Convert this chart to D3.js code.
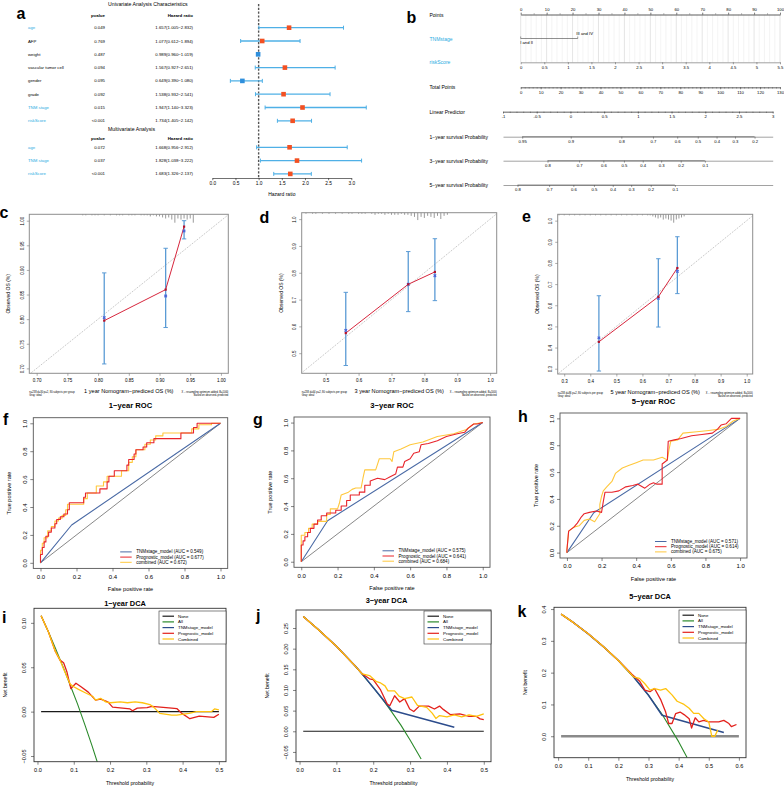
<!DOCTYPE html>
<html><head><meta charset="utf-8">
<script src="https://cdn.jsdelivr.net/npm/d3@7/dist/d3.min.js"></script>
<style>html,body{margin:0;padding:0;background:#fff}svg{display:block}</style>
</head><body>
<svg id="fig" width="784" height="790" xmlns="http://www.w3.org/2000/svg"></svg>
<script>
// ================= DATA =================
// Panel a: forest plot
const uniVars = ["age","AFP","weight","vascular tumor cell","gender","grade","TNM stage","riskScore"];
const uniP = ["0.049","0.769","0.487","0.094","0.095","0.092","0.015","<0.001"];
const uniHR = [1.657,1.077,0.989,1.567,0.649,1.538,1.947,1.734];
const uniLow = [1.005,0.612,0.960,0.927,0.390,0.932,1.140,1.405];
const uniHigh = [2.832,1.894,1.019,2.651,1.080,2.541,3.323,2.142];
const uniHighlight = [true,false,false,false,false,false,true,true];
const multiVars = ["age","TNM stage","riskScore"];
const multiP = ["0.072","0.037","<0.001"];
const multiHR = [1.668,1.828,1.683];
const multiLow = [0.956,1.038,1.326];
const multiHigh = [2.912,3.222,2.137];
const hrTicks = [0,0.5,1,1.5,2,2.5,3];

// Panel b: nomogram
const nomoRows = ["Points","TNMstage","riskScore","Total Points","Linear Predictor","1\u2212year survival Probability","3\u2212year survival Probability","5\u2212year survival Probability"];
const nomoRowHighlight = [false,true,true,false,false,false,false,false];
const pointTicks = [0,10,20,30,40,50,60,70,80,90,100];
const tnmLevels = ["I and II","III and IV"];
const tnmLevelPoints = [0,22];
const riskScoreTicks = [0,0.5,1,1.5,2,2.5,3,3.5,4,4.5,5,5.5];
const totalPointTicks = [0,10,20,30,40,50,60,70,80,90,100,110,120,130];
const lpTicks = [-1,-0.5,0,0.5,1,1.5,2,2.5,3];
const surv1Ticks = [0.95,0.9,0.8,0.7,0.6,0.5,0.4,0.3,0.2];
const surv3Ticks = [0.8,0.7,0.6,0.5,0.4,0.3,0.2,0.1];
const surv5Ticks = [0.8,0.7,0.6,0.5,0.4,0.3,0.2,0.1];
const survBaseline = [2.255,1.16,0.715];

// Panels c-e: calibration
const cal1Pred=[0.810,0.910,0.940], cal1Obs=[0.797,0.860,0.988], cal1KM=[0.803,0.847,0.979], cal1Lo=[0.709,0.783,0.963], cal1Hi=[0.894,0.944,1.000];
const cal3Pred=[0.561,0.751,0.832], cal3Obs=[0.575,0.757,0.803], cal3KM=[0.585,0.757,0.789], cal3Lo=[0.454,0.655,0.696], cal3Hi=[0.727,0.879,0.927];
const cal5Pred=[0.433,0.661,0.734], cal5Obs=[0.427,0.640,0.776], cal5KM=[0.446,0.633,0.760], cal5Lo=[0.289,0.497,0.655], cal5Hi=[0.645,0.820,0.924];
const rug1 = [[0.775,1],[0.78,1],[0.79,1],[0.795,1],[0.80,1],[0.81,1],[0.82,1],[0.83,1],[0.835,1],[0.84,1],[0.85,1],[0.855,1],[0.86,1],[0.87,1],[0.875,1],[0.88,1],[0.885,2],[0.89,1],[0.895,2],[0.90,2],[0.905,3],[0.91,4],[0.915,3],[0.92,5],[0.925,8],[0.93,4],[0.935,5],[0.94,4],[0.945,5],[0.95,4],[0.955,8]];
const rug3 = [[0.44,1],[0.46,1],[0.47,1],[0.49,1],[0.51,1],[0.53,1],[0.55,1],[0.57,1],[0.58,1],[0.60,1],[0.61,1],[0.62,1],[0.64,1],[0.65,2],[0.66,1],[0.67,1],[0.68,2],[0.69,1],[0.70,2],[0.71,2],[0.72,2],[0.73,1],[0.74,2],[0.75,2],[0.76,3],[0.77,4],[0.78,7],[0.79,4],[0.80,5],[0.81,3],[0.82,4],[0.83,5],[0.84,3],[0.85,6],[0.86,3],[0.87,2]];
const rug5 = [[0.28,1],[0.30,1],[0.32,1],[0.34,1],[0.36,1],[0.38,1],[0.40,1],[0.42,1],[0.44,1],[0.46,1],[0.48,1],[0.50,1],[0.52,1],[0.54,1],[0.56,1],[0.58,1],[0.60,1],[0.62,1],[0.63,1],[0.64,2],[0.65,3],[0.66,4],[0.67,3],[0.68,5],[0.69,4],[0.70,5],[0.71,6],[0.72,8],[0.73,5],[0.74,4],[0.75,3],[0.76,2]];

// Panels f-h: ROC
const rocDiag = [[0,0],[1,1]];
const roc1TNM = [[0,0],[0.173,0.271],[1,1]];
const roc1Prog = [[0,0],[0,0.06],[0.01,0.06],[0.01,0.11],[0.02,0.11],[0.02,0.15],[0.03,0.15],[0.03,0.19],[0.045,0.19],[0.045,0.22],[0.06,0.22],[0.06,0.25],[0.08,0.25],[0.08,0.28],[0.09,0.28],[0.09,0.31],[0.11,0.31],[0.11,0.33],[0.13,0.33],[0.13,0.35],[0.15,0.35],[0.15,0.38],[0.16,0.38],[0.16,0.43],[0.24,0.43],[0.24,0.47],[0.25,0.47],[0.25,0.50],[0.33,0.50],[0.33,0.53],[0.37,0.53],[0.37,0.58],[0.38,0.58],[0.38,0.62],[0.41,0.62],[0.41,0.66],[0.48,0.66],[0.48,0.70],[0.49,0.70],[0.49,0.74],[0.52,0.74],[0.52,0.78],[0.53,0.78],[0.53,0.81],[0.57,0.81],[0.57,0.83],[0.59,0.83],[0.59,0.86],[0.63,0.86],[0.63,0.89],[0.78,0.89],[0.78,0.93],[0.85,0.93],[0.85,0.97],[0.87,0.97],[0.87,1.0],[1,1]];
const roc1Comb = [[0,0],[0,0.09],[0.01,0.09],[0.01,0.14],[0.02,0.14],[0.02,0.18],[0.04,0.18],[0.04,0.23],[0.06,0.23],[0.06,0.26],[0.08,0.26],[0.08,0.30],[0.10,0.30],[0.10,0.32],[0.12,0.32],[0.12,0.34],[0.14,0.34],[0.14,0.38],[0.15,0.38],[0.15,0.42],[0.24,0.42],[0.24,0.46],[0.26,0.46],[0.26,0.50],[0.31,0.50],[0.31,0.55],[0.35,0.55],[0.35,0.58],[0.37,0.58],[0.37,0.62],[0.45,0.62],[0.45,0.66],[0.49,0.66],[0.49,0.72],[0.51,0.72],[0.51,0.76],[0.53,0.76],[0.53,0.81],[0.58,0.81],[0.58,0.85],[0.61,0.85],[0.61,0.88],[0.64,0.88],[0.64,0.91],[0.68,0.91],[0.68,0.93],[0.84,0.93],[0.84,0.96],[0.88,0.96],[0.88,0.99],[0.95,0.99],[0.95,1],[1,1]];
const roc3TNM = [[0,0],[0.145,0.295],[1,1]];
const roc3Prog = [[0,0],[0,0.12],[0.01,0.12],[0.01,0.15],[0.02,0.15],[0.02,0.18],[0.035,0.18],[0.035,0.21],[0.05,0.21],[0.05,0.24],[0.07,0.24],[0.07,0.27],[0.09,0.27],[0.09,0.30],[0.11,0.30],[0.11,0.33],[0.14,0.33],[0.14,0.35],[0.19,0.35],[0.19,0.37],[0.22,0.37],[0.22,0.40],[0.25,0.40],[0.25,0.44],[0.27,0.44],[0.27,0.48],[0.32,0.48],[0.32,0.50],[0.35,0.50],[0.35,0.55],[0.38,0.55],[0.38,0.58],[0.42,0.60],[0.46,0.59],[0.49,0.61],[0.52,0.63],[0.53,0.68],[0.56,0.68],[0.57,0.72],[0.60,0.74],[0.62,0.78],[0.65,0.79],[0.66,0.84],[0.70,0.85],[0.75,0.87],[0.80,0.90],[0.86,0.92],[0.90,0.93],[0.92,0.96],[0.95,0.99],[0.97,0.99],[1,1]];
const roc3Comb = [[0,0],[0,0.19],[0.02,0.19],[0.02,0.21],[0.04,0.21],[0.04,0.24],[0.06,0.24],[0.06,0.27],[0.09,0.27],[0.09,0.29],[0.14,0.29],[0.14,0.34],[0.16,0.34],[0.16,0.38],[0.20,0.38],[0.21,0.42],[0.22,0.48],[0.26,0.50],[0.28,0.52],[0.30,0.53],[0.33,0.53],[0.34,0.60],[0.35,0.66],[0.41,0.66],[0.42,0.70],[0.43,0.74],[0.49,0.74],[0.50,0.72],[0.51,0.79],[0.55,0.81],[0.60,0.84],[0.67,0.86],[0.75,0.90],[0.84,0.92],[0.91,0.95],[0.95,0.99],[1,1]];
const roc5TNM = [[0,0],[0.155,0.297],[1,1]];
const roc5Prog = [[0,0],[0,0.02],[0.01,0.16],[0.04,0.19],[0.06,0.22],[0.08,0.26],[0.10,0.29],[0.13,0.30],[0.17,0.31],[0.20,0.30],[0.21,0.38],[0.22,0.45],[0.26,0.45],[0.30,0.46],[0.34,0.49],[0.38,0.50],[0.41,0.51],[0.45,0.48],[0.48,0.51],[0.50,0.52],[0.52,0.51],[0.55,0.51],[0.55,0.66],[0.58,0.69],[0.585,0.83],[0.62,0.84],[0.66,0.85],[0.72,0.87],[0.78,0.88],[0.84,0.89],[0.87,0.92],[0.89,0.95],[0.92,0.96],[0.95,1.0],[1,1]];
const roc5Comb = [[0,0],[0,0.02],[0.01,0.16],[0.04,0.19],[0.07,0.20],[0.10,0.24],[0.13,0.25],[0.16,0.23],[0.19,0.29],[0.19,0.36],[0.20,0.42],[0.21,0.46],[0.23,0.49],[0.26,0.53],[0.28,0.59],[0.32,0.63],[0.36,0.65],[0.40,0.67],[0.44,0.69],[0.50,0.69],[0.55,0.71],[0.58,0.69],[0.59,0.77],[0.60,0.83],[0.64,0.84],[0.67,0.89],[0.75,0.90],[0.82,0.91],[0.88,0.92],[0.92,0.94],[0.96,0.98],[1,1]];
const rocAUC1 = ["0.549","0.677","0.672"], rocAUC3 = ["0.575","0.641","0.684"], rocAUC5 = ["0.571","0.614","0.675"];
const rocNames = ["TNMstage_model","Prognostic_model","combined"];

// Panels i-k: DCA
const dcaNames = ["None","All","TNMstage_model","Prognostic_model","Combined"];
const dcaNone1 = [[0.01,0],[0.5,0]];
const dcaAll1 = [[0.01,0.108],[0.03,0.090],[0.05,0.071],[0.07,0.051],[0.09,0.030],[0.11,0.009],[0.13,-0.014],[0.15,-0.038],[0.165,-0.057]];
const dcaProg1 = [[0.01,0.108],[0.03,0.090],[0.049,0.068],[0.062,0.058],[0.072,0.055],[0.081,0.045],[0.092,0.026],[0.106,0.032],[0.12,0.028],[0.14,0.022],[0.16,0.013],[0.174,0.014],[0.194,0.011],[0.207,0.005],[0.255,0.003],[0.262,0.001],[0.275,0.004],[0.302,0.0045],[0.315,0.006],[0.37,0.004],[0.384,0.0035],[0.398,-0.002],[0.42,-0.008],[0.446,-0.005],[0.486,-0.0065],[0.5,-0.003]];
const dcaComb1 = [[0.01,0.108],[0.03,0.090],[0.049,0.068],[0.06,0.060],[0.072,0.048],[0.09,0.031],[0.1,0.028],[0.113,0.025],[0.133,0.021],[0.153,0.017],[0.16,0.013],[0.174,0.015],[0.188,0.011],[0.201,0.010],[0.228,0.011],[0.248,0.010],[0.269,0.011],[0.289,0.010],[0.31,0.008],[0.323,0.004],[0.337,-0.002],[0.37,-0.004],[0.384,-0.004],[0.398,-0.003],[0.418,-0.002],[0.438,0.0],[0.459,0.0],[0.479,0.0],[0.488,0.003],[0.5,0.002]];
const dcaNone3 = [[0.01,0],[0.5,0]];
const dcaAll3 = [[0.01,0.278],[0.05,0.247],[0.1,0.206],[0.15,0.159],[0.2,0.106],[0.225,0.078],[0.25,0.047],[0.275,0.015],[0.3,-0.021],[0.33,-0.067]];
const dcaTNM3 = [[0.01,0.278],[0.05,0.247],[0.1,0.206],[0.15,0.159],[0.17,0.139],[0.2,0.106],[0.25,0.051],[0.42,0.010]];
const dcaProg3 = [[0.01,0.278],[0.05,0.247],[0.1,0.206],[0.15,0.159],[0.17,0.139],[0.19,0.127],[0.2,0.125],[0.22,0.10],[0.238,0.066],[0.245,0.062],[0.258,0.086],[0.272,0.071],[0.285,0.079],[0.299,0.054],[0.31,0.048],[0.325,0.061],[0.35,0.061],[0.366,0.054],[0.38,0.061],[0.39,0.053],[0.41,0.040],[0.435,0.042],[0.46,0.036],[0.48,0.036],[0.49,0.030],[0.5,0.028]];
const dcaComb3 = [[0.01,0.278],[0.05,0.247],[0.1,0.206],[0.15,0.159],[0.17,0.139],[0.19,0.135],[0.209,0.12],[0.22,0.117],[0.232,0.11],[0.24,0.098],[0.258,0.098],[0.27,0.085],[0.285,0.079],[0.305,0.083],[0.32,0.063],[0.345,0.058],[0.36,0.044],[0.37,0.031],[0.38,0.038],[0.4,0.035],[0.42,0.04],[0.44,0.035],[0.46,0.04],[0.48,0.036],[0.5,0.042]];
const dcaNone5 = [[0.01,0],[0.6,0]];
const dcaAll5 = [[0.01,0.384],[0.05,0.358],[0.1,0.322],[0.15,0.282],[0.2,0.238],[0.25,0.187],[0.3,0.129],[0.345,0.069],[0.4,-0.017],[0.428,-0.067]];
const dcaTNM5 = [[0.01,0.384],[0.05,0.358],[0.1,0.322],[0.15,0.282],[0.2,0.238],[0.25,0.187],[0.3,0.129],[0.345,0.066],[0.55,0.012]];
const dcaProg5 = [[0.01,0.384],[0.05,0.358],[0.1,0.322],[0.15,0.282],[0.2,0.238],[0.245,0.195],[0.27,0.174],[0.288,0.145],[0.305,0.14],[0.32,0.15],[0.34,0.116],[0.357,0.076],[0.367,0.04],[0.378,0.04],[0.39,0.071],[0.405,0.076],[0.418,0.068],[0.435,0.055],[0.443,0.026],[0.455,0.058],[0.467,0.045],[0.483,0.05],[0.5,0.045],[0.533,0.045],[0.55,0.05],[0.567,0.04],[0.575,0.03],[0.592,0.037]];
const dcaComb5 = [[0.01,0.384],[0.05,0.358],[0.1,0.322],[0.15,0.282],[0.2,0.238],[0.25,0.187],[0.27,0.182],[0.288,0.165],[0.305,0.145],[0.32,0.15],[0.34,0.145],[0.357,0.15],[0.378,0.13],[0.395,0.11],[0.418,0.1],[0.435,0.088],[0.45,0.072],[0.467,0.072],[0.483,0.056],[0.5,0.045],[0.51,0.0],[0.52,0.0],[0.53,0.02]];

// ================= DRAWING =================
const FONT = "'Liberation Sans', Arial, Helvetica, sans-serif";
const svg = d3.select("#fig").attr("font-family", FONT);
svg.append("rect").attr("width",784).attr("height",790).attr("fill","#fff");
const defs = svg.append("defs");
let clipN = 0;
function clip(b){ const id="clp"+(clipN++); defs.append("clipPath").attr("id",id).append("rect").attr("x",b.x0).attr("y",b.y0).attr("width",b.x1-b.x0).attr("height",b.y1-b.y0); return `url(#${id})`; }
function T(g,x,y,s,o={}){
  const t = g.append("text").attr("x",x).attr("y",y).text(s)
    .attr("font-size",o.size||5).attr("fill",o.fill||"#000")
    .attr("text-anchor",o.anchor||"start").attr("font-weight",o.weight||"normal");
  if(o.baseline) t.attr("dominant-baseline",o.baseline);
  if(o.rotate) t.attr("transform",`rotate(-90,${x},${y})`);
  return t;
}
function rAxis(g, scale, orient, ticks, o){
  let ax = orient==="bottom"?d3.axisBottom(scale):orient==="top"?d3.axisTop(scale):d3.axisLeft(scale);
  ax = ax.tickValues(ticks).tickSize(o.tl).tickSizeOuter(0).tickPadding(o.pad).tickFormat(o.fmt);
  const gg = g.append("g").attr("transform", orient==="left"?`translate(${o.pos},0)`:`translate(0,${o.pos})`).call(ax);
  gg.attr("font-family",FONT);
  if(!o.keepDomain) gg.select(".domain").remove();
  else gg.select(".domain").attr("stroke",o.color||"#000").attr("stroke-width",o.sw||0.6);
  gg.selectAll(".tick line").attr("stroke",o.color||"#000").attr("stroke-width",o.sw||0.6);
  gg.selectAll("text").attr("font-size",o.fs).attr("fill","#000");
  if(orient==="left") gg.selectAll("text").attr("transform","rotate(-90)").attr("x",0).attr("y",-(o.tl+o.pad)).attr("dy","0").attr("text-anchor","middle");
  return gg;
}
const cyan = "#29abe2";

// ---------- Panel a ----------
(function(){
  const g = svg.append("g");
  T(g,16.5,18.5,"a",{size:16,weight:"bold"});
  T(g,108,6,"Univariate Analysis Characteristics",{size:5.2});
  T(g,108,131,"Multivariate Analysis",{size:5.2});
  const hx = d3.scaleLinear().domain([0,3]).range([212.3,351.3]);
  const rowsU = uniVars.map((v,i)=>({v,p:uniP[i],hr:uniHR[i],lo:uniLow[i],hi:uniHigh[i],hl:uniHighlight[i],y:27.7+i*13.3}));
  const rowsM = multiVars.map((v,i)=>({v,p:multiP[i],hr:multiHR[i],lo:multiLow[i],hi:multiHigh[i],hl:true,y:147.3+i*13.3}));
  [15,138.5].forEach(y=>{
    T(g,105,y,"pvalue",{size:4.4,anchor:"end",baseline:"central",weight:"bold"});
    T(g,193,y,"Hazard ratio",{size:4.4,anchor:"end",baseline:"central",weight:"bold"});
  });
  const f3 = d3.format(".3f");
  g.append("line").attr("x1",hx(1)).attr("x2",hx(1)).attr("y1",4).attr("y2",178).attr("stroke","#555").attr("stroke-width",1.4).attr("stroke-dasharray","2.2,1.6");
  rowsU.concat(rowsM).forEach(r=>{
    T(g,28,r.y,r.v,{size:4.3,fill:r.hl?cyan:"#000",baseline:"central"});
    T(g,105,r.y,r.p,{size:4.3,anchor:"end",baseline:"central"});
    T(g,193,r.y,`${f3(r.hr)}(${f3(r.lo)}\u2212${f3(r.hi)})`,{size:4.3,anchor:"end",baseline:"central"});
    const c = "#4fb0e6";
    g.append("line").attr("x1",hx(r.lo)).attr("x2",hx(r.hi)).attr("y1",r.y).attr("y2",r.y).attr("stroke",c).attr("stroke-width",1.3);
    [r.lo,r.hi].forEach(v=>g.append("line").attr("x1",hx(v)).attr("x2",hx(v)).attr("y1",r.y-2).attr("y2",r.y+2).attr("stroke",c).attr("stroke-width",1));
    g.append("rect").attr("x",hx(r.hr)-2.3).attr("y",r.y-2.3).attr("width",4.6).attr("height",4.6).attr("fill",r.hr>=1?"#f25022":"#2f8fdc");
  });
  rAxis(g,hx,"bottom",hrTicks,{pos:178,tl:2.2,pad:1.5,fmt:d3.format(".1f"),fs:4.8,keepDomain:true,color:"#333",sw:0.7});
  T(g,hx(1.5),195.5,"Hazard ratio",{size:5,anchor:"middle"});
})();

// ---------- Panel b ----------
(function(){
  const g = svg.append("g");
  T(g,406.5,23.3,"b",{size:16,weight:"bold"});
  const ptsX = d3.scaleLinear().domain([0,100]).range([520.7,780]);
  const rsX = d3.scaleLinear().domain([0,5.5]).range([520.7,780]);
  const totX = d3.scaleLinear().domain([0,130]).range([520.7,780]);
  const lpX = d3.scaleLinear().domain([-1,3]).range([503,772.7]);
  const rowY = [14.5,38.5,62.3,87.3,111.7,136.7,160.7,185];
  nomoRows.forEach((r,i)=>T(g,429.5,rowY[i],r,{size:5,fill:nomoRowHighlight[i]?cyan:"#000",baseline:"central"}));
  d3.range(0,101,2).forEach(v=>g.append("line").attr("x1",ptsX(v)).attr("x2",ptsX(v)).attr("y1",rowY[0]).attr("y2",rowY[2]).attr("stroke",v%10===0?"#d4d4d4":"#ededed").attr("stroke-width",0.6));
  const ac = "#444", fs = 4.2;
  rAxis(g,ptsX,"top",d3.range(0,101,5),{pos:rowY[0],tl:1.2,pad:1,fmt:()=>"",fs,keepDomain:true,color:ac,sw:0.5});
  rAxis(g,ptsX,"top",pointTicks,{pos:rowY[0],tl:2,pad:1.2,fmt:d3.format("d"),fs,keepDomain:true,color:ac,sw:0.5});
  const tnmX = tnmLevelPoints.map(p=>ptsX(p));
  g.append("line").attr("x1",tnmX[0]).attr("x2",tnmX[1]).attr("y1",rowY[1]).attr("y2",rowY[1]).attr("stroke",ac).attr("stroke-width",0.6);
  tnmX.forEach(x=>g.append("line").attr("x1",x).attr("x2",x).attr("y1",rowY[1]).attr("y2",rowY[1]-2).attr("stroke",ac).attr("stroke-width",0.5));
  T(g,tnmX[1]-1.5,rowY[1]-3.3,tnmLevels[1],{size:fs});
  T(g,tnmX[0]-0.5,rowY[1]+5,tnmLevels[0],{size:fs});
  rAxis(g,rsX,"bottom",riskScoreTicks,{pos:rowY[2],tl:2,pad:1.3,fmt:d=>String(d),fs,keepDomain:true,color:ac,sw:0.5});
  rAxis(g,totX,"bottom",d3.range(0,131,2),{pos:rowY[3],tl:1.2,pad:1,fmt:()=>"",fs,keepDomain:true,color:ac,sw:0.5});
  rAxis(g,totX,"bottom",totalPointTicks,{pos:rowY[3],tl:2,pad:1.3,fmt:d3.format("d"),fs,keepDomain:true,color:ac,sw:0.5});
  rAxis(g,lpX,"bottom",d3.range(-10,31,1).map(v=>v/10),{pos:rowY[4],tl:1.2,pad:1,fmt:()=>"",fs,keepDomain:true,color:ac,sw:0.5});
  rAxis(g,lpX,"bottom",lpTicks,{pos:rowY[4],tl:2,pad:1.3,fmt:d=>String(d),fs,keepDomain:true,color:ac,sw:0.5});
  [[surv1Ticks,survBaseline[0],rowY[5]],[surv3Ticks,survBaseline[1],rowY[6]],[surv5Ticks,survBaseline[2],rowY[7]]].forEach(([ticks,base,y])=>{
    const tv = ticks.map(p=>Math.log(-Math.log(p))+base);
    rAxis(g,lpX,"bottom",tv,{pos:y,tl:2,pad:1.3,fmt:(d,i)=>String(ticks[i]),fs,keepDomain:true,color:ac,sw:0.5});
    g.append("line").attr("x1",lpX(tv[0])).attr("x2",lpX(tv[tv.length-1])).attr("y1",y).attr("y2",y).attr("stroke",ac).attr("stroke-width",0.6);
  });
})();

// ---------- Panels c-e ----------
function drawCal(p){
  const g = svg.append("g"), b = p.b;
  const x = d3.scaleLinear().domain(p.xdom).range([b.x0,b.x1]);
  const y = d3.scaleLinear().domain(p.ydom).range([b.y1,b.y0]);
  const cp = clip(b);
  g.append("line").attr("clip-path",cp).attr("x1",x(0)).attr("y1",y(0)).attr("x2",x(1.2)).attr("y2",y(1.2)).attr("stroke","#9a9a9a").attr("stroke-width",0.7).attr("stroke-dasharray","1,1.2");
  p.rug.forEach(d=>g.append("line").attr("x1",x(d[0])).attr("x2",x(d[0])).attr("y1",b.y0).attr("y2",b.y0+d[1]*1.05).attr("stroke","#555").attr("stroke-width",0.6));
  const eb = "#5b9bd5";
  p.pred.forEach((v,i)=>{
    g.append("line").attr("x1",x(v)).attr("x2",x(v)).attr("y1",y(p.lo[i])).attr("y2",y(p.hi[i])).attr("stroke",eb).attr("stroke-width",1.3);
    [p.lo[i],p.hi[i]].forEach(w=>g.append("line").attr("x1",x(v)-2.2).attr("x2",x(v)+2.2).attr("y1",y(w)).attr("y2",y(w)).attr("stroke",eb).attr("stroke-width",1));
  });
  g.append("path").datum(d3.zip(p.pred,p.obs)).attr("d",d3.line().x(d=>x(d[0])).y(d=>y(d[1]))).attr("fill","none").attr("stroke","#d7263d").attr("stroke-width",1);
  p.pred.forEach((v,i)=>{
    g.append("path").attr("d",d3.symbol(d3.symbolCross,7)()).attr("transform",`translate(${x(v)},${y(p.km[i])}) rotate(45)`).attr("fill","#4a63d8");
    g.append("rect").attr("x",x(v)-1.1).attr("y",y(p.obs[i])-1.1).attr("width",2.2).attr("height",2.2).attr("fill","#b5122b");
  });
  g.append("rect").attr("x",b.x0).attr("y",b.y0).attr("width",b.x1-b.x0).attr("height",b.y1-b.y0).attr("fill","none").attr("stroke","#8e8e8e").attr("stroke-width",1);
  rAxis(g,x,"bottom",p.xticks,{pos:b.y1,tl:2.5,pad:3,fmt:p.fmt,fs:4.5,color:"#777",sw:0.6});
  rAxis(g,y,"left",p.yticks,{pos:b.x0,tl:2.5,pad:3,fmt:p.fmt,fs:4.5,color:"#777",sw:0.6});
  const cx = (b.x0+b.x1)/2;
  T(g,cx,b.y1+20,p.xlab,{size:5.6,anchor:"middle"});
  T(g,b.x0-19,(b.y0+b.y1)/2,"Observed OS (%)",{size:5,anchor:"middle",rotate:true});
  T(g,b.x0,b.y1+20,p.note,{size:2.6});
  T(g,b.x0,b.y1+22.8,"Gray: ideal",{size:2.6});
  T(g,b.x1,b.y1+20,"X \u2212 resampling optimism added, B=1000",{size:2.6,anchor:"end"});
  T(g,b.x1,b.y1+22.8,"Based on observed\u2212predicted",{size:2.6,anchor:"end"});
  T(g,p.lx,p.ly,p.label,{size:16,weight:"bold"});
}
drawCal({b:{x0:29.3,x1:228.3,y0:214.3,y1:373.3},xdom:[0.688,1.012],ydom:[0.69,1.013],xticks:[0.7,0.75,0.8,0.85,0.9,0.95,1.0],yticks:[0.7,0.75,0.8,0.85,0.9,0.95,1.0],fmt:d3.format(".2f"),
  pred:cal1Pred,obs:cal1Obs,km:cal1KM,lo:cal1Lo,hi:cal1Hi,rug:rug1,xlab:"1 year Nomogram\u2212prediced OS (%)",note:"n=238 d=30 p=2, 80 subjects per group",label:"c",lx:-0.5,ly:218.3});
drawCal({b:{x0:301.7,x1:496.7,y0:212.7,y1:373.3},xdom:[0.427,1.02],ydom:[0.425,1.024],xticks:[0.5,0.6,0.7,0.8,0.9,1.0],yticks:[0.5,0.6,0.7,0.8,0.9,1.0],fmt:d3.format(".1f"),
  pred:cal3Pred,obs:cal3Obs,km:cal3KM,lo:cal3Lo,hi:cal3Hi,rug:rug3,xlab:"3 year Nomogram\u2212prediced OS (%)",note:"n=238 d=64 p=2, 80 subjects per group",label:"d",lx:259.5,ly:222.7});
drawCal({b:{x0:557.7,x1:752.7,y0:214.3,y1:374},xdom:[0.275,1.023],ydom:[0.275,1.03],xticks:[0.3,0.4,0.5,0.6,0.7,0.8,0.9,1.0],yticks:[0.3,0.4,0.5,0.6,0.7,0.8,0.9,1.0],fmt:d3.format(".1f"),
  pred:cal5Pred,obs:cal5Obs,km:cal5KM,lo:cal5Lo,hi:cal5Hi,rug:rug5,xlab:"5 year Nomogram\u2212prediced OS (%)",note:"n=238 d=86 p=2, 80 subjects per group",label:"e",lx:522,ly:221.7});

// ---------- Panels f-h ----------
function drawROC(p){
  const g = svg.append("g"), b = p.b;
  const x = d3.scaleLinear().domain([-0.04,1.04]).range([b.x0,b.x1]);
  const y = d3.scaleLinear().domain([-0.04,1.04]).range([b.y1,b.y0]);
  const cp = clip(b);
  const line = d3.line().x(d=>x(d[0])).y(d=>y(d[1]));
  g.append("path").datum(rocDiag).attr("d",line).attr("fill","none").attr("stroke","#555").attr("stroke-width",0.7);
  const cols = ["#4a6aa5","#ffc83d","#e8242b"];
  [p.tnm,p.comb,p.prog].forEach((c,i)=>g.append("path").datum(c).attr("clip-path",cp).attr("d",line).attr("fill","none").attr("stroke",cols[i]).attr("stroke-width",1.1).attr("stroke-linejoin","round"));
  g.append("rect").attr("x",b.x0).attr("y",b.y0).attr("width",b.x1-b.x0).attr("height",b.y1-b.y0).attr("fill","none").attr("stroke","#555").attr("stroke-width",0.9);
  const tk = [0,0.2,0.4,0.6,0.8,1.0];
  rAxis(g,x,"bottom",tk,{pos:b.y1,tl:3,pad:3,fmt:d3.format(".1f"),fs:6,color:"#333",sw:0.6});
  rAxis(g,y,"left",tk,{pos:b.x0,tl:3,pad:3.5,fmt:d3.format(".1f"),fs:6,color:"#333",sw:0.6});
  const cx = (b.x0+b.x1)/2;
  T(g,cx,b.y1+23,"False positive rate",{size:5.6,anchor:"middle"});
  T(g,b.x0-22,(b.y0+b.y1)/2,"True positive rate",{size:5.6,anchor:"middle",rotate:true});
  T(g,cx,b.y0-12,p.title,{size:7.6,weight:"bold",anchor:"middle",baseline:"central"});
  const lcols = ["#4a6aa5","#e8242b","#ffc83d"];
  rocNames.forEach((n,i)=>{
    const ly = b.y1-16.5+i*5.2;
    g.append("line").attr("x1",b.x1-p.lg).attr("x2",b.x1-p.lg+11.5).attr("y1",ly).attr("y2",ly).attr("stroke",lcols[i]).attr("stroke-width",1);
    T(g,b.x1-p.lg+16,ly,`${n} (AUC = ${p.auc[i]})`,{size:4.6,baseline:"central"});
  });
  T(g,p.lx,p.ly,p.label,{size:16,weight:"bold"});
}
drawROC({b:{x0:33.3,x1:227.7,y0:417.7,y1:568.4},tnm:roc1TNM,prog:roc1Prog,comb:roc1Comb,auc:rocAUC1,title:"1\u2212year ROC",lg:107.5,label:"f",lx:3,ly:425});
drawROC({b:{x0:294,x1:490,y0:417,y1:567.3},tnm:roc3TNM,prog:roc3Prog,comb:roc3Comb,auc:rocAUC3,title:"3\u2212year ROC",lg:107.5,label:"g",lx:253,ly:425});
drawROC({b:{x0:560,x1:747,y0:413,y1:558},tnm:roc5TNM,prog:roc5Prog,comb:roc5Comb,auc:rocAUC5,title:"5\u2212year ROC",lg:92,label:"h",lx:518,ly:421.7});

// ---------- Panels i-k ----------
function drawDCA(p){
  const g = svg.append("g"), b = p.b;
  const x = d3.scaleLinear().domain(p.xdom).range([b.x0,b.x1]);
  const y = d3.scaleLinear().domain(p.ydom).range([b.y1,b.y0]);
  const cp = clip(b);
  const line = d3.line().x(d=>x(d[0])).y(d=>y(d[1]));
  // order: None, All, TNMstage, Prognostic (red), Combined (yellow, on top)
  const cols = [p.noneColor,"#2b8a2b","#2c4c8c","#e3211c","#ffc30f"];
  const widths = [p.noneWidth,1.1,1.5,1.3,1.3];
  p.lines.forEach((d,i)=>{ if(d) g.append("path").datum(d).attr("clip-path",cp).attr("d",line).attr("fill","none").attr("stroke",cols[i]).attr("stroke-width",widths[i]).attr("stroke-linejoin","round"); });
  g.append("rect").attr("x",b.x0).attr("y",b.y0).attr("width",b.x1-b.x0).attr("height",b.y1-b.y0).attr("fill","none").attr("stroke","#333").attr("stroke-width",0.9);
  rAxis(g,x,"bottom",p.xticks,{pos:b.y1,tl:3,pad:3,fmt:d3.format(".1f"),fs:5.6,color:"#333",sw:0.6});
  rAxis(g,y,"left",p.yticks,{pos:b.x0,tl:3,pad:5,fmt:p.yfmt,fs:5.6,color:"#333",sw:0.6});
  const cx = (b.x0+b.x1)/2;
  T(g,cx,b.y1+23,"Threshold probability",{size:5.2,anchor:"middle"});
  T(g,b.x0-27,(b.y0+b.y1)/2,"Net benefit",{size:5.2,anchor:"middle",rotate:true});
  T(g,cx+p.tdx,p.ty,p.title,{size:7.4,weight:"bold",anchor:"middle",baseline:"central"});
  const L = p.leg;
  g.append("rect").attr("x",L.x).attr("y",L.y).attr("width",67).attr("height",33).attr("fill","#fff").attr("stroke","#333").attr("stroke-width",0.6);
  const lcol = ["#1a1a1a","#2b8a2b","#2c4c8c","#e3211c","#ffc30f"];
  dcaNames.forEach((n,i)=>{
    const ly = L.y+5.2+i*5.7;
    g.append("line").attr("x1",L.x+3.5).attr("x2",L.x+15).attr("y1",ly).attr("y2",ly).attr("stroke",lcol[i]).attr("stroke-width",1.2);
    T(g,L.x+19,ly,n,{size:4.4,baseline:"central"});
  });
  T(g,p.lx,p.ly,p.label,{size:16,weight:"bold"});
}
drawDCA({b:{x0:34,x1:226,y0:608.3,y1:761.7},xdom:[-0.0096,0.5196],ydom:[-0.0564,0.1164],xticks:[0,0.1,0.2,0.3,0.4,0.5],yticks:[-0.05,0,0.05,0.1],yfmt:d3.format(".2f"),
  lines:[dcaNone1,dcaAll1,null,dcaProg1,dcaComb1],noneColor:"#1a1a1a",noneWidth:1.1,title:"1\u2212year  DCA",tdx:-5,ty:603,leg:{x:159,y:611},label:"i",lx:2,ly:623.3});
drawDCA({b:{x0:296,x1:491,y0:610,y1:761.7},xdom:[-0.0096,0.5196],ydom:[-0.0736,0.2936],xticks:[0,0.1,0.2,0.3,0.4,0.5],yticks:[-0.05,0,0.05,0.1,0.15,0.2,0.25],yfmt:d3.format(".2f"),
  lines:[dcaNone3,dcaAll3,dcaTNM3,dcaProg3,dcaComb3],noneColor:"#1a1a1a",noneWidth:1.1,title:"3\u2212year  DCA",tdx:-7,ty:600,leg:{x:424,y:611},label:"j",lx:256,ly:621});
drawDCA({b:{x0:554,x1:746,y0:607.3,y1:757.7},xdom:[-0.0136,0.6236],ydom:[-0.0675,0.4055],xticks:[0,0.1,0.2,0.3,0.4,0.5,0.6],yticks:[0,0.1,0.2,0.3,0.4],yfmt:d3.format(".1f"),
  lines:[dcaNone5,dcaAll5,dcaTNM5,dcaProg5,dcaComb5],noneColor:"#8a8a8a",noneWidth:2.4,title:"5\u2212year  DCA",tdx:0,ty:596.7,leg:{x:679,y:610},label:"k",lx:517.5,ly:616.7});
</script>
</body></html>
